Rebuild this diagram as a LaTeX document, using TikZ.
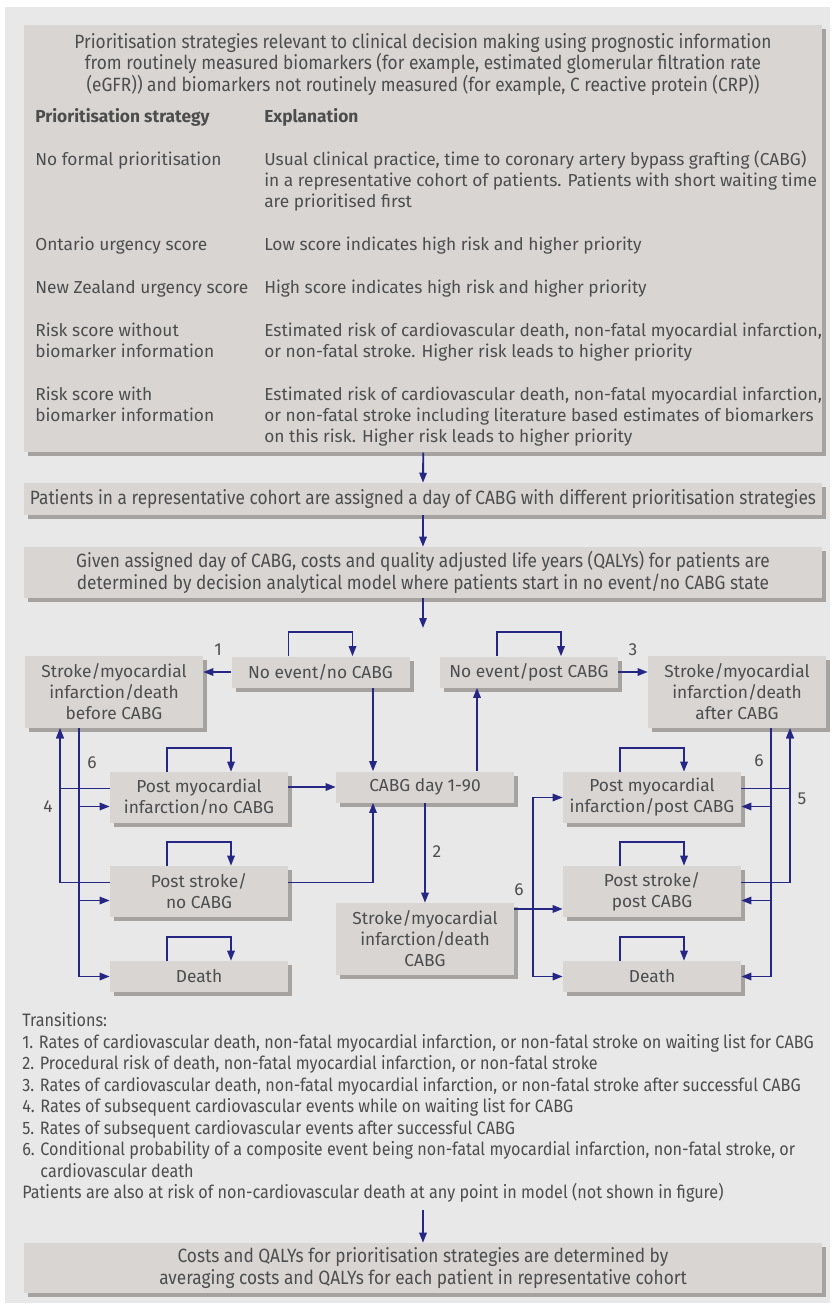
\documentclass[tikz,border=0pt]{standalone}
\usepackage{fontspec}
\usepackage{array}
\setmainfont{Fira Sans}
\newfontfamily\condfont[FakeStretch=0.9]{Fira Sans}
\usetikzlibrary{arrows.meta,positioning,shadows}
\definecolor{bmjpage}{RGB}{232,232,232}
\definecolor{bmjbox}{RGB}{217,213,210}
\definecolor{bmjshadow}{RGB}{166,162,160}
\definecolor{bmjtext}{RGB}{77,77,77}
\definecolor{bmjnavy}{RGB}{38,38,132}
\newcommand{\selfloop}[1]{%
  \draw[flow] ([xshift=-24pt]#1.north) -- ++(0,-24) -| ([xshift=24pt]#1.north);
}
\newcommand{\rowgap}{\noalign{\vskip16.5pt}}

\begin{document}
\begin{tikzpicture}[x=0.75pt,y=-0.75pt,
    font=\fontsize{13}{15.75}\selectfont,text=bmjtext,
    panel/.style={fill=bmjbox,inner sep=0pt,
      drop shadow={shadow xshift=3pt,shadow yshift=-3pt,fill=bmjshadow,opacity=1}},
    cond/.style={font=\condfont\fontsize{14.4}{15.9}\selectfont},
    wide/.style={panel,cond,minimum width=598.5pt,align=center},
    statebox/.style={panel,minimum width=133.5pt,align=center},
    one/.style={statebox,minimum height=23.25pt},
    two/.style={statebox,minimum height=38.25pt},
    three/.style={statebox,minimum height=54pt},
    num/.style={inner sep=0pt},
    flow/.style={draw=bmjnavy,line width=1.4pt,-{Triangle[length=7.5pt,width=5.5pt]}}]
  \useasboundingbox (0,0) rectangle (835,1308);
  \fill[bmjpage] (5,7) rectangle (830,1303);

  % strategies
  \node[panel,anchor=north west,minimum width=598.5pt,minimum height=320.25pt] (strat) at (24,25) {};
  \node[cond,align=center,inner sep=0pt] (strathead) at (423,64.5)
    {Prioritisation strategies relevant to clinical decision making using prognostic information\\
     from routinely measured biomarkers (for example, estimated glomerular filtration rate\\
     (eGFR)) and biomarkers not routinely measured (for example, C reactive protein (CRP))};
  \node[anchor=north west,inner sep=0pt] (strattab) at (35,107.8) {%
    \begin{tabular}{@{}>{\raggedright\arraybackslash}p{171.75pt}@{}>{\raggedright\arraybackslash}p{430pt}@{}}
      \textbf{Prioritisation strategy} & \textbf{Explanation}\\\rowgap
      No formal prioritisation & Usual clinical practice, time to coronary artery bypass grafting (CABG)\newline
        in a representative cohort of patients. Patients with short waiting time\newline
        are prioritised first\\\rowgap
      Ontario urgency score & Low score indicates high risk and higher priority\\\rowgap
      New Zealand urgency score & High score indicates high risk and higher priority\\\rowgap
      Risk score without\newline biomarker information & Estimated risk of cardiovascular death, non-fatal myocardial infarction,\newline
        or non-fatal stroke. Higher risk leads to higher priority\\\rowgap
      Risk score with\newline biomarker information & Estimated risk of cardiovascular death, non-fatal myocardial infarction,\newline
        or non-fatal stroke including literature based estimates of biomarkers\newline
        on this risk. Higher risk leads to higher priority
    \end{tabular}};
  \node[wide,minimum height=24pt] (assign) at (423,499)
    {Patients in a representative cohort are assigned a day of CABG with different prioritisation strategies};
  \node[wide,minimum height=38.25pt] (model) at (423,572.5)
    {Given assigned day of CABG, costs and quality adjusted life years (QALYs) for patients are\\
     determined by decision analytical model where patients start in no event/no CABG state};
  \coordinate (modelin) at (423,628);
  \draw[flow] (strat.south) -- (assign.north);
  \draw[flow] (assign.south) -- (model.north);
  \draw[flow] (model.south) -- (modelin);

  % model states
  \node[one] (ne_nc) at (320.5,672) {No event/no CABG};
  \node[three] (pre) at (114,692) {Stroke/myocardial\\infarction/death\\before CABG};
  \node[one] (ne_pc) at (529,672) {No event/post CABG};
  \node[three] (post) at (737,692) {Stroke/myocardial\\infarction/death\\after CABG};
  \node[two] (pmi_nc) at (199,797.5) {Post myocardial\\infarction/no CABG};
  \node[one] (cabg) at (425,787) {CABG day 1-90};
  \node[two] (pmi_pc) at (652,797.5) {Post myocardial\\infarction/post CABG};
  \node[two] (ps_nc) at (199,891.5) {Post stroke/\\no CABG};
  \node[three] (smi_cabg) at (425,939) {Stroke/myocardial\\infarction/death\\CABG};
  \node[two] (ps_pc) at (652,891.5) {Post stroke/\\post CABG};
  \node[one] (d_nc) at (199,976.5) {Death};
  \node[one] (d_pc) at (652,976.5) {Death};

  \foreach \s in {ne_nc,ne_pc,pmi_nc,ps_nc,d_nc,pmi_pc,ps_pc,d_pc}{\selfloop{\s}}

  \draw[flow] (ne_nc.west) -- (ne_nc.west -| pre.east);
  \draw[flow] (ne_pc.east) -- (ne_pc.east -| post.west);
  \draw[flow] ([xshift=-39pt]cabg.north |- ne_nc.south) -- ([xshift=-39pt]cabg.north);
  \draw[flow] ([xshift=39pt]cabg.north) -- ([xshift=39pt]cabg.north |- ne_pc.south);
  \draw[flow] (cabg.south) -- (smi_cabg.north);
  \draw[flow] (cabg.west -| pmi_nc.east) -- (cabg.west);
  \draw[flow] ([yshift=6.75pt]ps_nc.east) -| ([xshift=-39pt]cabg.south);

  % waiting list side
  \coordinate (busout) at ([xshift=-40.5pt]pre.south);
  \coordinate (busin) at ([xshift=-26.25pt]pre.south);
  \draw[flow] ([yshift=6.75pt]pmi_nc.west) -| (busout);
  \draw[flow] ([yshift=6.75pt]ps_nc.west) -| (busout);
  \draw[flow] (busin) |- ([yshift=-6.75pt]pmi_nc.west);
  \draw[flow] (busin) |- ([yshift=-6.75pt]ps_nc.west);
  \draw[flow] (busin) |- (d_nc.west);

  % after CABG side
  \coordinate (rbusout) at ([xshift=25.5pt]post.south);
  \coordinate (rbusin) at ([xshift=39.75pt]post.south);
  \draw[flow] (rbusout) |- ([yshift=-6.75pt]pmi_pc.east);
  \draw[flow] (rbusout) |- ([yshift=-6.75pt]ps_pc.east);
  \draw[flow] (rbusout) |- (d_pc.east);
  \draw[flow] ([yshift=6.75pt]pmi_pc.east) -| (rbusin);
  \draw[flow] ([yshift=6.75pt]ps_pc.east) -| (rbusin);

  % procedural events
  \coordinate (mbus) at ([xshift=-22.5pt]pmi_pc.west);
  \draw[flow] ([yshift=-13.1pt]ps_pc.west -| smi_cabg.east) -- ([yshift=-13.1pt]ps_pc.west);
  \draw[flow] ([xshift=-22.5pt]d_pc.west) |- (pmi_pc.west);
  \draw[flow] (mbus) |- (d_pc.west);

  \node[num] (n1) at (218,650) {1};
  \node[num] (n2) at (437,852) {2};
  \node[num] (n3) at (633,650) {3};
  \node[num] (n4) at (48,807) {4};
  \node[num] (n5) at (802,799) {5};
  \node[num] (n6a) at (92,763) {6};
  \node[num] (n6b) at (519,890) {6};
  \node[num] (n6c) at (759,761) {6};

  % transitions
  \node[anchor=north west,inner sep=0pt,font=\condfont\fontsize{13.5}{16.1}\selectfont] (trans) at (22,1011.5) {%
    \begin{tabular}{@{}l@{}}
      Transitions:\\
      1. Rates of cardiovascular death, non-fatal myocardial infarction, or non-fatal stroke on waiting list for CABG\\
      2. Procedural risk of death, non-fatal myocardial infarction, or non-fatal stroke\\
      3. Rates of cardiovascular death, non-fatal myocardial infarction, or non-fatal stroke after successful CABG\\
      4. Rates of subsequent cardiovascular events while on waiting list for CABG\\
      5. Rates of subsequent cardiovascular events after successful CABG\\
      6. Conditional probability of a composite event being non-fatal myocardial infarction, non-fatal stroke, or\\
      \phantom{6. }cardiovascular death\\
      Patients are also at risk of non-cardiovascular death at any point in model (not shown in figure)
    \end{tabular}};
  \node[wide,minimum height=37.5pt] (result) at (423,1268)
    {Costs and QALYs for prioritisation strategies are determined by\\
     averaging costs and QALYs for each patient in representative cohort};
  \coordinate (transend) at (423,1210);
  \draw[flow] (transend) -- (result.north);
\end{tikzpicture}
\end{document}
